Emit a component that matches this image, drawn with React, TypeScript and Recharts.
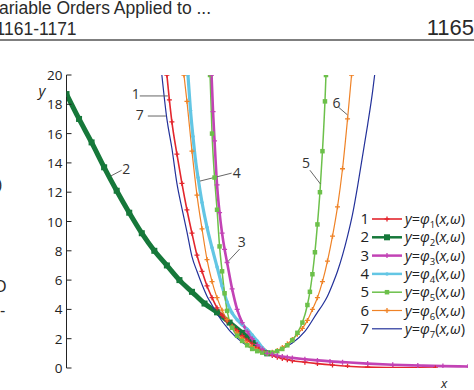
import React from 'react';
import { LineChart, Line, XAxis, YAxis, ReferenceLine, ReferenceDot } from 'recharts';

// curve 1 (red)
const x1 = [-2.0, -1.95, -1.9, -1.8, -1.7, -1.6, -1.5, -1.4, -1.3, -1.2, -1.1, -1.0, -0.9, -0.8, -0.7, -0.6, -0.5, -0.4, -0.3, -0.2, -0.1, 0, 0.1, 0.2, 0.3, 0.4, 0.5, 0.75, 1.0, 1.3, 1.6, 2.0, 2.5, 3.0, 3.35];
const y1 = [20, 18.3, 16.8, 14.6, 12.6, 10.8, 9.2, 7.7, 6.6, 5.6, 4.8, 4.1, 3.6, 3.2, 2.85, 2.55, 2.2, 1.9, 1.65, 1.4, 1.2, 1.0, 0.85, 0.74, 0.65, 0.57, 0.5, 0.4, 0.3, 0.2, 0.12, 0.06, 0.03, 0.01, 0];

// curve 2 (dark green)
const x2 = [-4, -3.75, -3.5, -3.25, -3, -2.75, -2.5, -2.25, -2, -1.75, -1.5, -1.25, -1, -0.75, -0.5, -0.25, 0];
const y2 = [18.7, 17.0, 15.4, 13.7, 12.1, 10.6, 9.2, 8.0, 7.0, 6.0, 5.2, 4.4, 3.8, 3.1, 2.4, 1.7, 1.0];

// curve 3 (magenta)
const x3 = [-1.11, -1.08, -1.05, -1.0, -0.95, -0.9, -0.85, -0.8, -0.7, -0.6, -0.5, -0.4, -0.3, -0.2, -0.1, 0, 0.1, 0.2, 0.3, 0.4, 0.5, 0.75, 1.0, 1.25, 1.5, 2.0, 2.5, 3.0, 3.5, 4.0];
const y3 = [20, 17.5, 15.5, 12.5, 10.6, 9.2, 8.1, 7.2, 5.4, 4.0, 3.1, 2.5, 2.0, 1.6, 1.3, 1.0, 0.92, 0.85, 0.78, 0.73, 0.69, 0.6, 0.52, 0.45, 0.4, 0.3, 0.22, 0.17, 0.13, 0.1];

// curve 4 (cyan)
const x4 = [-1.58, -1.53, -1.48, -1.43, -1.38, -1.3, -1.2, -1.1, -1.0, -0.9, -0.8, -0.7, -0.6, -0.5, -0.4, -0.3, -0.2, -0.1, 0];
const y4 = [20, 17.6, 15.8, 14.2, 13.0, 11.3, 9.6, 8.2, 6.9, 5.6, 4.5, 3.75, 3.3, 2.95, 2.65, 2.25, 1.85, 1.4, 1.0];

// curve 5 (light green)
const x5 = [-1.14, -1.1, -1.05, -1.0, -0.95, -0.9, -0.85, -0.8, -0.7, -0.6, -0.5, -0.4, -0.3, -0.2, -0.1, 0, 0.1, 0.2, 0.3, 0.4, 0.5, 0.6, 0.7, 0.8, 0.85, 0.9, 0.95, 1.0, 1.05, 1.1, 1.15, 1.17];
const y5 = [20, 16.0, 13.0, 10.8, 8.3, 6.6, 5.1, 3.9, 2.75, 2.2, 1.85, 1.55, 1.3, 1.15, 1.05, 1.0, 1.05, 1.15, 1.3, 1.55, 1.9, 2.4, 3.1, 4.3, 5.2, 6.4, 7.9, 9.8, 12.0, 14.8, 18.2, 20];

// curve 6 (orange)
const x6 = [-1.66, -1.6, -1.5, -1.4, -1.3, -1.2, -1.1, -1.0, -0.9, -0.8, -0.7, -0.6, -0.5, -0.4, -0.3, -0.2, -0.1, 0, 0.1, 0.2, 0.3, 0.4, 0.5, 0.6, 0.7, 0.8, 0.9, 1.0, 1.1, 1.2, 1.3, 1.4, 1.5, 1.6, 1.68];
const y6 = [20, 18.2, 14.8, 11.8, 9.5, 7.4, 5.9, 4.8, 3.95, 3.3, 2.8, 2.4, 2.0, 1.7, 1.45, 1.25, 1.1, 1.0, 1.08, 1.2, 1.4, 1.65, 1.95, 2.3, 2.7, 3.25, 4.0, 4.8, 5.9, 7.3, 9.0, 11.0, 13.6, 17.0, 20];

// curve 7 (navy)
const x7 = [-2.1, -2.0, -1.9, -1.8, -1.7, -1.6, -1.5, -1.4, -1.3, -1.2, -1.1, -1.0, -0.75, -0.5, -0.25, 0, 0.25, 0.5, 0.75, 1.0, 1.1, 1.2, 1.3, 1.4, 1.5, 1.6, 1.7, 1.8, 1.9, 2.0, 2.1, 2.14];
const y7 = [20, 17.0, 15.0, 12.6, 10.9, 9.3, 7.6, 6.6, 5.7, 4.9, 4.3, 3.7, 2.55, 1.75, 1.25, 1.0, 1.25, 1.7, 2.5, 3.8, 4.3, 4.9, 5.7, 6.6, 7.7, 9.0, 10.5, 12.4, 14.5, 16.6, 18.9, 20];

const names = ['1', '2', '3', '4', '5', '6', '7'];
const xTicks = [-4, -3, -2, -1, 0, 1, 2, 3, 4];
const yTicks = [0, 2, 4, 6, 8, 10, 12, 14, 16, 18, 20];

// curve number labels and their leader lines
const noteLabels = ['1', '7', '2', '4', '3', '5', '6'];
const noteX = [-2.62, -2.54, -2.81, -0.61, -0.51, 0.77, 1.38];
const noteY = [18.7, 17.27, 13.6, 13.3, 8.6, 14.0, 18.1];
const leadFrom = [[-2.54, 18.57], [-2.38, 17.2], [-3.12, 13.1], [-1.34, 12.76], [-0.81, 7.17], [0.85, 13.5], [1.42, 17.8]];
const leadTo = [[-1.98, 18.57], [-2.02, 17.2], [-2.9, 13.5], [-0.71, 13.3], [-0.55, 8.12], [1.06, 12.56], [1.6, 17.27]];

const colors = ['#e3262d', '#16783a', '#c243b5', '#63c6e4', '#6cc04a', '#ef8226', '#23319a'];
const look = [
  { w: 1.6, marker: 'plus', size: 5 },
  { w: 5, marker: 'square', size: 6 },
  { w: 2.6, marker: 'plus', size: 5 },
  { w: 3.2, marker: 'dot', size: 3.5 },
  { w: 1.5, marker: 'square', size: 4.5 },
  { w: 1.2, marker: 'plus', size: 5 },
  { w: 1.2, marker: '', size: 0 },
];
const drawOrder = [1, 6, 0, 5, 3, 4, 2];

const FONT = "'Open Sans', sans-serif";
const AXIS = '#222';

type Pt = { x: number; y: number };
const zip = (xs: number[], ys: number[]): Pt[] => xs.map((x, i) => ({ x, y: ys[i] }));
const series = [zip(x1, y1), zip(x2, y2), zip(x3, y3), zip(x4, y4), zip(x5, y5), zip(x6, y6), zip(x7, y7)];

const fmt = (v: number) => (v < 0 ? `\u2212${Math.abs(v)}` : `${v}`);

const Marker = ({ kind, cx, cy, size, color }: any) => {
  if (cx == null || cy == null) return null;
  const h = size / 2;
  if (kind === 'square') return <rect x={cx - h} y={cy - h} width={size} height={size} fill={color} />;
  if (kind === 'dot') return <circle cx={cx} cy={cy} r={h} fill={color} />;
  if (kind === 'plus')
    return <path d={`M${cx - h},${cy}H${cx + h}M${cx},${cy - h}V${cy + h}`} stroke={color} strokeWidth={1.3} />;
  return null;
};

const dotFor = (i: number) => {
  const m = look[i];
  if (!m.marker) return false;
  return (p: any) => (
    <Marker key={`d${i}-${p.index}`} kind={m.marker} cx={p.cx} cy={p.cy} size={m.size} color={colors[i]} />
  );
};

const BottomTick = (p: any) => (
  <g>
    <line x1={p.x} y1={p.y} x2={p.x} y2={p.y - 5} stroke={AXIS} />
    <text x={p.x} y={p.y + 13} textAnchor="middle" fontSize={13.5} fill="#222" fontFamily={FONT}>
      {fmt(p.payload.value)}
    </text>
  </g>
);

const LeftTick = (p: any) => (
  <g>
    <line x1={p.x} y1={p.y} x2={p.x + 5} y2={p.y} stroke={AXIS} />
    <text x={p.x - 4} y={p.y + 5} textAnchor="end" fontSize={13.5} fill="#222" fontFamily={FONT}>
      {p.payload.value}
    </text>
  </g>
);

const TopTick = (p: any) => <line x1={p.x} y1={p.y} x2={p.x} y2={p.y + 5} stroke={AXIS} />;
const RightTick = (p: any) => <line x1={p.x} y1={p.y} x2={p.x - 5} y2={p.y} stroke={AXIS} />;

// legend rows drawn in svg so the spacing is exact
const ROW = 18.3;
const LegendSvg = () => (
  <svg width={118} height={132} style={{ position: 'absolute', left: 356, top: 210 }}>
    {names.map((n, i) => {
      const cy = 9 + i * ROW;
      return (
        <g key={n}>
          <text x={13} y={cy + 5} textAnchor="end" fontSize={15} fontFamily={FONT} fill="#222">{n}</text>
          <line x1={16} y1={cy} x2={46} y2={cy} stroke={colors[i]} strokeWidth={Math.min(look[i].w, 2.5)} />
          <Marker kind={look[i].marker} cx={31} cy={cy} size={look[i].size} color={colors[i]} />
          <text x={49} y={cy + 5} fontSize={14.5} fontFamily={FONT} fill="#222">
            <tspan fontStyle="italic">y</tspan>
            <tspan>=</tspan>
            <tspan fontStyle="italic">φ</tspan>
            <tspan fontSize={9.5} dy={4}>{n}</tspan>
            <tspan dy={-4}>(</tspan>
            <tspan fontStyle="italic">x,ω</tspan>
            <tspan>)</tspan>
          </text>
        </g>
      );
    })}
  </svg>
);

export default function App() {
  return (
    <div style={{ position: 'absolute', left: 0, top: 0, width: 474, height: 390, overflow: 'hidden', background: '#fff' }}>
      <svg width={474} height={390} style={{ position: 'absolute', left: 0, top: 0 }}>
        <g fontFamily="'Liberation Sans', Arial, sans-serif" fill="#2a2a2a">
          <text x={-1} y={13.5} fontSize={17.5}>ariable Orders Applied to ...</text>
          <text x={-4.5} y={34.5} fontSize={17.5}>1161-1171</text>
          <text x={474} y={35} fontSize={22} textAnchor="end">1165</text>
          <text x={-3} y={190} fontSize={16}>)</text>
          <text x={-6} y={292} fontSize={16}>O</text>
          <text x={0} y={316} fontSize={16}>-</text>
        </g>
        <line x1={0} y1={40} x2={474} y2={40} stroke="#555" strokeWidth={1.5} />
        <text x={42} y={96} fontSize={15} fontStyle="italic" fontFamily={FONT} fill="#222" textAnchor="middle">y</text>
        <text x={444} y={388} fontSize={13} fontStyle="italic" fontFamily={FONT} fill="#222" textAnchor="middle">x</text>
      </svg>
      <div style={{ position: 'absolute', left: 0, top: 0 }}>
        <LineChart width={474} height={390} margin={{ top: 75, right: 6, bottom: 22, left: 26.5 }}>
          <XAxis xAxisId="b" type="number" dataKey="x" domain={[-4, 4]} ticks={xTicks} interval={0} allowDataOverflow
            height={0} tickSize={0} tickMargin={0} tickLine={false} tick={<BottomTick />} axisLine={{ stroke: AXIS }} />
          <XAxis xAxisId="t" orientation="top" type="number" dataKey="x" domain={[-4, 4]} ticks={xTicks} interval={0} allowDataOverflow
            height={0} tickSize={0} tickMargin={0} tickLine={false} tick={<TopTick />} axisLine={{ stroke: AXIS }} />
          <YAxis yAxisId="l" type="number" domain={[0, 20]} ticks={yTicks} interval={0} allowDataOverflow
            width={40} tickSize={0} tickMargin={0} tickLine={false} tick={<LeftTick />} axisLine={{ stroke: AXIS }} />
          <YAxis yAxisId="r" orientation="right" type="number" domain={[0, 20]} ticks={yTicks} interval={0} allowDataOverflow
            width={0} tickSize={0} tickMargin={0} tickLine={false} tick={<RightTick />} axisLine={{ stroke: AXIS }} />
          {drawOrder.map((i) => (
            <Line key={names[i]} xAxisId="b" yAxisId="l" data={series[i]} dataKey="y" type="monotone"
              stroke={colors[i]} strokeWidth={look[i].w} dot={dotFor(i)} activeDot={false} isAnimationActive={false} />
          ))}
          {noteLabels.map((n, i) => (
            <ReferenceLine key={`l${n}`} xAxisId="b" yAxisId="l" stroke="#555" strokeWidth={0.9}
              segment={[{ x: leadFrom[i][0], y: leadFrom[i][1] }, { x: leadTo[i][0], y: leadTo[i][1] }]} />
          ))}
          {noteLabels.map((n, i) => (
            <ReferenceDot key={`n${n}`} xAxisId="b" yAxisId="l" x={noteX[i]} y={noteY[i]}
              shape={(p: any) => (
                <text x={p.cx} y={p.cy} dy="0.36em" textAnchor="middle" fontSize={14} fontFamily={FONT} fill="#333">{n}</text>
              )} />
          ))}
        </LineChart>
      </div>
      <LegendSvg />
    </div>
  );
}
